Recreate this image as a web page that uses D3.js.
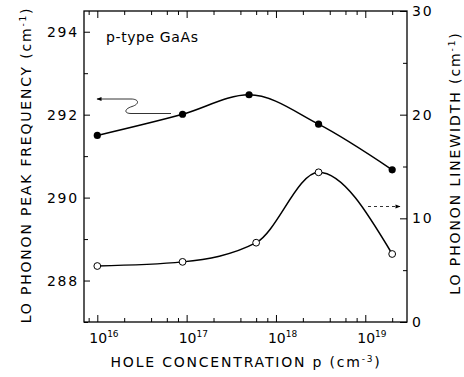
<!DOCTYPE html>
<html>
<head>
<meta charset="utf-8">
<script src="https://cdn.jsdelivr.net/npm/d3@7"></script>
<style>
  body { margin: 0; background: #fff; }
  text { font-family: "DejaVu Sans", sans-serif; fill: #000; }
</style>
</head>
<body>
<svg id="chart" width="464" height="377"></svg>
<script>
// LO phonon peak frequency (left axis, filled dots)
const freqConcentration = [1e16, 9e16, 5e17, 3e18, 2e19];
const peakFrequency = [291.5, 292.01, 292.48, 291.77, 290.67];

// LO phonon linewidth (right axis, open dots)
const widthConcentration = [1e16, 9e16, 6e17, 3e18, 2e19];
const linewidth = [5.4, 5.8, 7.65, 14.44, 6.56];

// Axis ticks
const leftMajorTicks = [288, 290, 292, 294];
const leftMinorTicks = [287, 289, 291, 293];
const rightMajorTicks = [0, 10, 20, 30];
const rightMinorTicks = [5, 15, 25];
const xExponents = [16, 17, 18, 19];
const xMinorMantissas = [2, 4, 6, 8];

const svg = d3.select("#chart");
const margin = { left: 84, top: 11, right: 57, bottom: 55 };
const W = 464, H = 377;
const x0 = margin.left, x1 = W - margin.right;
const y0 = H - margin.bottom, y1 = margin.top;

const x = d3.scaleLog().domain([Math.pow(10, 15.851), Math.pow(10, 19.467)]).range([x0, x1]);
const yL = d3.scaleLinear().domain([287, 294.5]).range([y0, y1]);
const yR = d3.scaleLinear().domain([0, 30]).range([y0, y1]);

const xMajor = xExponents.map(e => Math.pow(10, e));
const xMinor = [];
for (let e = 15; e <= 19; e++) {
  xMinorMantissas.forEach(m => {
    const v = m * Math.pow(10, e);
    if (x(v) > x0 + 1 && x(v) < x1 - 1) xMinor.push(v);
  });
}

function tickAxis(gen, transform, values, size) {
  const g = svg.append("g").attr("transform", transform)
    .call(gen.tickValues(values).tickSize(size).tickFormat(""));
  g.select(".domain").remove();
  g.selectAll(".tick line").attr("stroke", "#000").attr("stroke-width", 1);
  return g;
}

// inward-pointing ticks on all four sides
tickAxis(d3.axisBottom(x), `translate(0,${y0})`, xMajor, -7);
tickAxis(d3.axisBottom(x), `translate(0,${y0})`, xMinor, -4);
tickAxis(d3.axisTop(x), `translate(0,${y1})`, xMajor, -7);
tickAxis(d3.axisTop(x), `translate(0,${y1})`, xMinor, -4);
tickAxis(d3.axisLeft(yL), `translate(${x0},0)`, leftMajorTicks, -6);
tickAxis(d3.axisLeft(yL), `translate(${x0},0)`, leftMinorTicks, -4);
tickAxis(d3.axisRight(yR), `translate(${x1},0)`, rightMajorTicks, -7);
tickAxis(d3.axisRight(yR), `translate(${x1},0)`, rightMinorTicks, -4);

// frame
svg.append("rect")
  .attr("x", x0).attr("y", y1).attr("width", x1 - x0).attr("height", y0 - y1)
  .attr("fill", "none").attr("stroke", "#000").attr("stroke-width", 1.3);

// tick labels
svg.selectAll(".lLab").data(leftMajorTicks).enter().append("text")
  .attr("x", x0 - 5).attr("y", d => yL(d)).attr("dy", "0.36em")
  .attr("text-anchor", "end").style("font-size", "14px").style("letter-spacing", "1.8px")
  .text(d => d);

svg.selectAll(".rLab").data(rightMajorTicks).enter().append("text")
  .attr("x", x1 + 5).attr("y", d => yR(d)).attr("dy", "0.36em")
  .style("font-size", "14px").style("letter-spacing", "1.8px")
  .text(d => d);

const xl = svg.selectAll(".xLab").data(xExponents).enter().append("text")
  .attr("x", d => x(Math.pow(10, d)) - 8).attr("y", 343)
  .style("font-size", "14px");
xl.append("tspan").text("10");
xl.append("tspan").attr("dy", -6).style("font-size", "9px").text(d => d);

// axis titles
function titleWithSup(sel, main, sup) {
  sel.append("tspan").text(main);
  sel.append("tspan").attr("dy", -5).style("font-size", "9px").text(sup);
  sel.append("tspan").attr("dy", 5).text(")");
}
const tl = svg.append("text")
  .attr("transform", "translate(31,165) rotate(-90)")
  .attr("text-anchor", "middle").style("font-size", "14px").style("letter-spacing", "1.8px");
titleWithSup(tl, "LO PHONON PEAK FREQUENCY (cm", "-1");

const tr = svg.append("text")
  .attr("transform", "translate(460,163) rotate(-90)")
  .attr("text-anchor", "middle").style("font-size", "14px").style("letter-spacing", "1.9px");
titleWithSup(tr, "LO PHONON LINEWIDTH (cm", "-1");

const tb = svg.append("text")
  .attr("x", 246).attr("y", 367)
  .attr("text-anchor", "middle").style("font-size", "14px").style("letter-spacing", "1.8px");
titleWithSup(tb, "HOLE CONCENTRATION p (cm", "-3");

svg.append("text").attr("x", 106).attr("y", 42)
  .style("font-size", "14px").style("letter-spacing", "0.6px")
  .text("p-type GaAs");

// series curves
const freqPts = freqConcentration.map((c, i) => [x(c), yL(peakFrequency[i])]);
const widthPts = widthConcentration.map((c, i) => [x(c), yR(linewidth[i])]);
const curve = d3.line().curve(d3.curveMonotoneX);

svg.append("path").attr("d", curve(freqPts))
  .attr("fill", "none").attr("stroke", "#000").attr("stroke-width", 1.5);
svg.append("path").attr("d", curve(widthPts))
  .attr("fill", "none").attr("stroke", "#000").attr("stroke-width", 1.5);

svg.selectAll(".fDot").data(freqPts).enter().append("circle")
  .attr("cx", d => d[0]).attr("cy", d => d[1]).attr("r", 3.6).attr("fill", "#000");
svg.selectAll(".oDot").data(widthPts).enter().append("circle")
  .attr("cx", d => d[0]).attr("cy", d => d[1]).attr("r", 3.4)
  .attr("fill", "#fff").attr("stroke", "#000").attr("stroke-width", 1);

// arrows pointing each series to its axis
const defs = svg.append("defs");
defs.append("marker").attr("id", "head")
  .attr("viewBox", "0 0 10 10").attr("refX", 9).attr("refY", 5)
  .attr("markerWidth", 7).attr("markerHeight", 5).attr("orient", "auto-start-reverse")
  .attr("markerUnits", "userSpaceOnUse")
  .append("path").attr("d", "M0,1 L10,5 L0,9 Z").attr("fill", "#000");

svg.append("path")
  .attr("d", "M171,113.5 H131 C124,113.5 124,109 132,106.5 C140,104 139,99 131,99 H97")
  .attr("fill", "none").attr("stroke", "#000").attr("stroke-width", 0.8)
  .attr("marker-end", "url(#head)");

svg.append("path")
  .attr("d", "M368,206.5 H400")
  .attr("fill", "none").attr("stroke", "#000").attr("stroke-width", 0.8)
  .attr("stroke-dasharray", "3,3")
  .attr("marker-end", "url(#head)");
</script>
</body>
</html>
